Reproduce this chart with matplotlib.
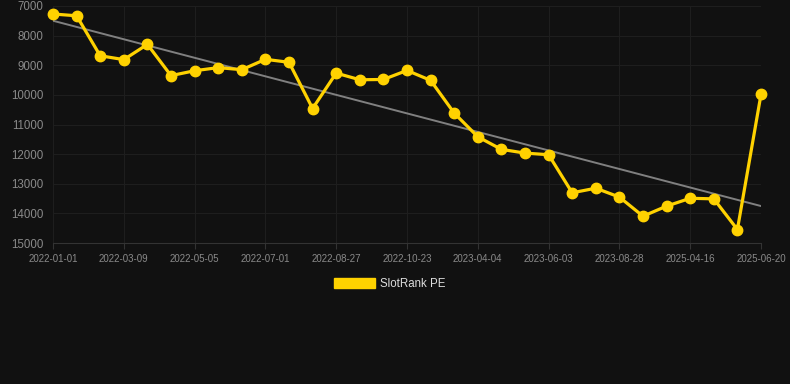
import numpy as np
import matplotlib
matplotlib.use("Agg")
import matplotlib.pyplot as plt
from matplotlib.patches import Patch

dates = ['2022-01-01', '', '', '2022-03-09', '', '', '2022-05-05', '', '', '2022-07-01', '', '',
         '2022-08-27', '', '', '2022-10-23', '', '', '2023-04-04', '', '', '2023-06-03', '', '',
         '2023-08-28', '', '', '2025-04-16', '', '', '2025-06-20']
rank = [7270, 7330, 8680, 8810, 8295, 9350, 9185, 9080, 9150, 8800,
        8900, 10460, 9265, 9490, 9480, 9175, 9510, 10615, 11415, 11840,
        11965, 12020, 13305, 13150, 13450, 14095, 13755, 13490, 13510, 14545,
        9985]
yticks = [7000, 8000, 9000, 10000, 11000, 12000, 13000, 14000, 15000]

plt.rcParams['font.family'] = ['Liberation Sans', 'DejaVu Sans']
bg = '#111111'
fig = plt.figure(figsize=(7.9, 3.84), dpi=100, facecolor=bg)
ax = fig.add_axes([53/790, 1-243/384, (761-53)/790, (243-6)/384])
ax.set_facecolor(bg)

x = np.arange(len(rank))
k, b = np.polyfit(x, rank, 1)
ax.plot(x, k*x + b, color='#808080', lw=1.4, zorder=2)
ax.plot(x, rank, color='#FFD200', lw=2.3, marker='o', ms=7.5, zorder=3, clip_on=False)

ax.set_xlim(0, len(rank)-1)
ax.set_ylim(15000, 7000)
ax.set_yticks(yticks)
ax.set_yticklabels([str(v) for v in yticks])
tick_pos = [i for i, d in enumerate(dates) if d]
ax.set_xticks(tick_pos)
ax.set_xticklabels([dates[i] for i in tick_pos])
ax.tick_params(axis='y', colors='#8a8a8a', labelsize=8.3, length=0, pad=7)
ax.tick_params(axis='x', colors='#333333', labelcolor='#8a8a8a', labelsize=7, length=4, pad=4)
ax.grid(True, color='#1e1e1e', lw=0.8)
for s in ['top', 'right', 'left']:
    ax.spines[s].set_visible(False)
ax.spines['bottom'].set_color('#333333')

fig.legend(handles=[Patch(color='#FFD200', label='SlotRank PE')], loc='center',
           bbox_to_anchor=(390/790, 1-284/384), frameon=False, fontsize=8.3,
           labelcolor='#dddddd', handlelength=3.5, handleheight=0.95, handletextpad=0.5)

fig.savefig('out.png', dpi=100, facecolor=bg)
